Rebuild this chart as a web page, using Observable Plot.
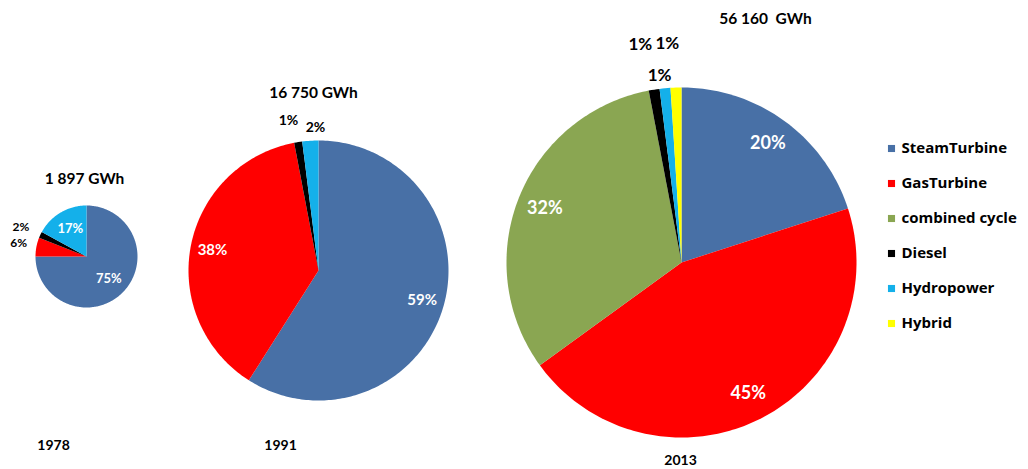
<!DOCTYPE html>
<html><head><meta charset="utf-8">
<script src="https://cdn.jsdelivr.net/npm/d3@7"></script>
<script src="https://cdn.jsdelivr.net/npm/@observablehq/plot@0.6"></script>
<style>body{margin:0;background:#fff;}</style>
</head><body><div id="chart"></div>
<script>
// ---- data ----
const categories = ["SteamTurbine", "GasTurbine", "combined cycle", "Diesel", "Hydropower", "Hybrid"];
const colors = ["#4870a6", "#ff0000", "#8aa652", "#000000", "#14b0ea", "#ffff00"];
const years = ["1978", "1991", "2013"];
const totals = ["1 897 GWh", "16 750 GWh", "56 160  GWh"];
const shares1978 = [75, 6, 0, 2, 17, 0];
const shares1991 = [59, 38, 0, 1, 2, 0];
const shares2013 = [20, 45, 32, 1, 1, 1];
const sharesByYear = [shares1978, shares1991, shares2013];

// ---- layout (positions / sizes / styles) ----
const layout = {
  "1978": {cx: 86, cy: 256, r: 51, inR: 0.62, outsideBelow: 10, font: 13, outFont: 12, title: [84, 179], year: [53, 445]},
  "1991": {cx: 318, cy: 270, r: 130, inR: 0.83, outsideBelow: 5, font: 15, outFont: 14, title: [313, 93], year: [280, 445]},
  "2013": {cx: 681, cy: 262, r: 175, inR: 0.84, outsideBelow: 5, font: 18, outFont: 17, title: [765, 19], year: [680, 460]}
};
// outside label nudges: [radial offset beyond rim, angle offset in degrees]
const outsideNudge = {
  "1978|GasTurbine": [18, 0], "1978|Diesel": [21, -1],
  "1991|Diesel": [23, -2.3], "1991|Hydropower": [13, 2.4],
  "2013|Diesel": [47, -1.7], "2013|Hydropower": [13, -1.3], "2013|Hybrid": [44, -1.9]
};
const legendLayout = {x: 891, textX: 901, y0: 148, dy: 35, font: 15};

// ---- build geometry from data ----
const slices = [];
const inLabels = [];
const outLabels = [];
years.forEach((yr, yi) => {
  const shares = sharesByYear[yi];
  const L = layout[yr];
  let acc = 0;
  categories.forEach((cat, ci) => {
    const v = shares[ci];
    if (!v) return;
    const a0 = acc / 100 * 360, a1 = (acc + v) / 100 * 360;
    acc += v;
    const key = yr + "|" + cat;
    slices.push({key, cat, x: L.cx, y: L.cy});
    const n = Math.max(2, Math.ceil(a1 - a0));
    for (let k = 0; k <= n; k++) {
      const t = (a0 + (a1 - a0) * k / n) * Math.PI / 180;
      slices.push({key, cat, x: L.cx + L.r * Math.sin(t), y: L.cy - L.r * Math.cos(t)});
    }
    const mid = (a0 + a1) / 2;
    if (v >= L.outsideBelow) {
      const t = mid * Math.PI / 180, rr = L.r * L.inR;
      inLabels.push({x: L.cx + rr * Math.sin(t), y: L.cy - rr * Math.cos(t), text: v + "%", size: L.font});
    } else {
      const [dr, da] = outsideNudge[key] || [18, 0];
      const t = (mid + da) * Math.PI / 180, rr = L.r + dr;
      outLabels.push({x: L.cx + rr * Math.sin(t), y: L.cy - rr * Math.cos(t), text: v + "%", size: L.outFont});
    }
  });
});
const titleRows = years.map((yr, i) => ({x: layout[yr].title[0], y: layout[yr].title[1], text: totals[i]}));
const yearRows = years.map(yr => ({x: layout[yr].year[0], y: layout[yr].year[1], text: yr}));
const legendRows = categories.map((cat, i) => ({cat, y: legendLayout.y0 + i * legendLayout.dy}));

const sizeGroups = (rows) => d3.groups(rows, d => d.size);

const marks = [
  Plot.line(slices, {x: "x", y: "y", z: "key", fill: "cat", stroke: "none", curve: "linear-closed"}),
  ...sizeGroups(inLabels).map(([s, rows]) =>
    Plot.text(rows, {x: "x", y: "y", text: "text", fill: "white", fontSize: s, fontWeight: "bold"})),
  ...sizeGroups(outLabels).map(([s, rows]) =>
    Plot.text(rows, {x: "x", y: "y", text: "text", fill: "black", fontSize: s, fontWeight: "bold"})),
  Plot.text(titleRows, {x: "x", y: "y", text: "text", fill: "black", fontSize: 15.5, fontWeight: "bold"}),
  Plot.text(yearRows, {x: "x", y: "y", text: "text", fill: "black", fontSize: 14, fontWeight: "bold"}),
  Plot.dot(legendRows, {x: legendLayout.x, y: "y", fill: "cat", symbol: "square", r: 4, stroke: "none"}),
  Plot.text(legendRows, {x: legendLayout.textX, y: "y", text: "cat", fill: "black", textAnchor: "start",
    fontSize: legendLayout.font, fontWeight: "bold", fontFamily: "'Open Sans', Lato, sans-serif"})
];

const chart = Plot.plot({
  width: 1028,
  height: 469,
  margin: 0,
  x: {domain: [0, 1028], range: [0, 1028], axis: null},
  y: {domain: [0, 469], range: [0, 469], axis: null},
  color: {domain: categories, range: colors},
  style: {fontFamily: "Lato, 'Open Sans', sans-serif", background: "white", overflow: "visible"},
  marks
});
document.getElementById("chart").appendChild(chart);
</script>
</body></html>
